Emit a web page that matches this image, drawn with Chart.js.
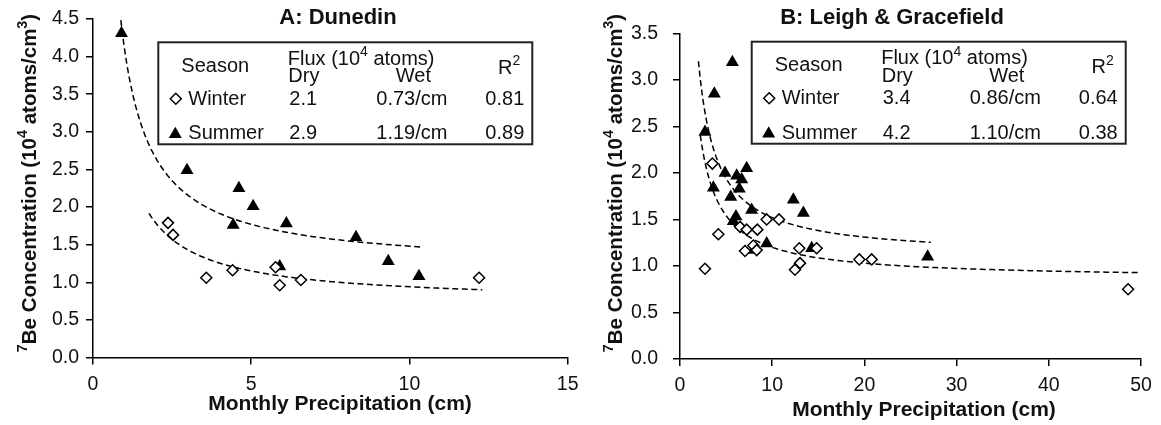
<!DOCTYPE html>
<html>
<head>
<meta charset="utf-8">
<script src="https://cdn.jsdelivr.net/npm/chart.js@4.4.1/dist/chart.umd.min.js"></script>
<style>
  html, body { margin: 0; padding: 0; background: #fff; }
  #wrap { position: relative; width: 1161px; height: 425px; background: #fff; }
  #wrap canvas { position: absolute; top: 0; }
  #chartA { left: 0; }
  #chartB { left: 590px; }
</style>
</head>
<body>
<div id="wrap">
  <canvas id="chartA" width="590" height="425"></canvas>
  <canvas id="chartB" width="571" height="425"></canvas>
</div>
<script>
// Monthly precipitation (cm) vs 7Be concentration (10^4 atoms/cm3)
const seasons = ['Winter', 'Summer'];

// A: Dunedin
const winterA_P = [2.37, 2.53, 3.58, 4.41, 5.77, 5.90, 6.57, 12.20];
const winterA_C = [1.79, 1.63, 1.06, 1.16, 1.20, 0.96, 1.03, 1.06];
const summerA_P = [0.90, 2.97, 4.61, 5.06, 4.43, 6.11, 8.31, 5.90, 9.33, 10.30];
const summerA_C = [4.31, 2.49, 2.25, 2.01, 1.76, 1.78, 1.60, 1.21, 1.28, 1.08];
const dryFluxA = [2.1, 2.9];
const wetFluxA = [0.73, 1.19];
const r2A = [0.81, 0.89];
const fitRangeA = [[1.77, 12.3], [0.88, 10.4]];

// B: Leigh & Gracefield
const winterB_P = [3.51, 4.16, 2.71, 6.51, 7.23, 8.39, 9.40, 10.74, 7.05, 7.95, 8.32, 12.94, 12.47, 13.02, 14.82, 19.45, 20.79, 48.6];
const winterB_C = [2.10, 1.34, 0.97, 1.42, 1.39, 1.39, 1.50, 1.50, 1.16, 1.22, 1.17, 1.19, 0.96, 1.03, 1.19, 1.07, 1.07, 0.75];
const summerB_P = [5.68, 3.72, 2.71, 7.23, 4.88, 6.15, 6.69, 3.62, 6.43, 5.50, 7.77, 12.29, 13.38, 6.07, 5.78, 9.40, 7.95, 14.28, 26.86];
const summerB_C = [3.19, 2.85, 2.44, 2.05, 2.00, 1.97, 1.93, 1.84, 1.83, 1.74, 1.60, 1.71, 1.57, 1.53, 1.48, 1.24, 1.17, 1.19, 1.10];
const dryFluxB = [3.4, 4.2];
const wetFluxB = [0.86, 1.10];
const r2B = [0.64, 0.38];
const fitRangeB = [[2.2, 50], [2.0, 27.2]];

const FONT = '"Liberation Sans", Arial, Helvetica, sans-serif';
const INK = '#111';

function toPoints(xs, ys) {
    return xs.map((x, i) => ({ x: x, y: ys[i] }));
}

// concentration = dry / P + wet, the fitted model from the flux table
function fitCurve(dry, wet, range) {
    const pts = [];
    const n = 80;
    for (let i = 0; i <= n; i++) {
        const p = range[0] * Math.pow(range[1] / range[0], i / n);
        pts.push({ x: p, y: dry / p + wet });
    }
    return pts;
}

function fontStr(size, bold) {
    return (bold ? 'bold ' : '') + size + 'px ' + FONT;
}

// draws text runs, some raised as superscripts
function drawRich(ctx, parts, x, y, size, bold, align) {
    const widths = parts.map(p => {
        ctx.font = fontStr(p[1] ? size * 0.7 : size, bold);
        return ctx.measureText(p[0]).width;
    });
    const total = widths.reduce((a, b) => a + b, 0);
    let cx = align === 'center' ? x - total / 2 : (align === 'right' ? x - total : x);
    ctx.textAlign = 'left';
    ctx.textBaseline = 'alphabetic';
    parts.forEach((p, i) => {
        ctx.font = fontStr(p[1] ? size * 0.7 : size, bold);
        ctx.fillText(p[0], cx, p[1] ? y - size * 0.42 : y);
        cx += widths[i];
    });
}

function drawDiamond(ctx, x, y, r) {
    ctx.beginPath();
    ctx.moveTo(x - r, y);
    ctx.lineTo(x, y - r);
    ctx.lineTo(x + r, y);
    ctx.lineTo(x, y + r);
    ctx.closePath();
    ctx.fillStyle = '#fff';
    ctx.fill();
    ctx.lineWidth = 1.5;
    ctx.strokeStyle = '#000';
    ctx.stroke();
}

function drawTriangle(ctx, x, y, r) {
    ctx.beginPath();
    ctx.moveTo(x, y - r);
    ctx.lineTo(x + r * 0.866, y + r * 0.5);
    ctx.lineTo(x - r * 0.866, y + r * 0.5);
    ctx.closePath();
    ctx.fillStyle = '#000';
    ctx.fill();
}

const panelText = {
    id: 'panelText',
    afterDraw(chart, args, opts) {
        const ctx = chart.ctx;
        ctx.save();
        ctx.fillStyle = INK;

        drawRich(ctx, [[opts.title, false]], opts.titleX, opts.titleY, 22, true, 'center');
        drawRich(ctx, [['Monthly Precipitation (cm)', false]], opts.xTitleX, opts.xTitleY, 21, true, 'center');

        ctx.save();
        ctx.translate(opts.yTitleX, opts.yTitleY);
        ctx.rotate(-Math.PI / 2);
        drawRich(ctx, [['7', true], ['Be Concentration (10', false], ['4', true], [' atoms/cm', false], ['3', true], [')', false]], 0, 0, 20.5, true, 'center');
        ctx.restore();

        // flux table
        const L = opts.boxX, T = opts.boxY;
        ctx.fillStyle = '#fff';
        ctx.fillRect(L, T, 374, 102);
        ctx.lineWidth = 2;
        ctx.strokeStyle = '#222';
        ctx.strokeRect(L, T, 374, 102);

        ctx.fillStyle = INK;
        drawRich(ctx, [['Season', false]], L + 23, T + 29.5, 20, false, 'left');
        drawRich(ctx, [['Flux (10', false], ['4', true], [' atoms)', false]], L + 129.5, T + 22.5, 20, false, 'left');
        drawRich(ctx, [['Dry', false]], L + 130, T + 40, 20, false, 'left');
        drawRich(ctx, [['Wet', false]], L + 237.5, T + 40, 20, false, 'left');
        drawRich(ctx, [['R', false], ['2', true]], L + 362, T + 31.5, 20, false, 'right');

        const rowY = [T + 62.5, T + 97];
        seasons.forEach((s, i) => {
            ctx.fillStyle = INK;
            drawRich(ctx, [[s, false]], L + 30, rowY[i], 20, false, 'left');
            drawRich(ctx, [[opts.dry[i].toFixed(1), false]], L + 131, rowY[i], 20, false, 'left');
            drawRich(ctx, [[opts.wet[i].toFixed(2) + '/cm', false]], L + 218, rowY[i], 20, false, 'left');
            drawRich(ctx, [[opts.r2[i].toFixed(2), false]], L + 366, rowY[i], 20, false, 'right');
        });
        drawDiamond(ctx, L + 17.5, T + 56.5, 5.5);
        drawTriangle(ctx, L + 17, T + 92, 7.5);

        ctx.restore();
    }
};

function makeChart(id, cfg) {
    const tickFont = { family: FONT, size: 19.5 };
    const axisGrid = { drawOnChartArea: false, drawTicks: true, tickLength: 7, color: '#000', lineWidth: 1.5 };
    const axisBorder = { color: '#000', width: 1.5 };

    return new Chart(document.getElementById(id), {
        type: 'scatter',
        data: {
            datasets: [
                {
                    label: 'Winter',
                    data: toPoints(cfg.winterP, cfg.winterC),
                    pointStyle: 'rectRot',
                    pointRadius: 5.5,
                    backgroundColor: '#fff',
                    borderColor: '#000',
                    borderWidth: 1.5
                },
                {
                    label: 'Summer',
                    data: toPoints(cfg.summerP, cfg.summerC),
                    pointStyle: 'triangle',
                    pointRadius: 7.5,
                    backgroundColor: '#000',
                    borderColor: '#000',
                    borderWidth: 0
                },
                {
                    label: 'Winter fit',
                    data: fitCurve(cfg.dry[0], cfg.wet[0], cfg.fitRange[0]),
                    showLine: true,
                    pointRadius: 0,
                    borderColor: '#000',
                    borderWidth: 1.5,
                    borderDash: [6, 3.5]
                },
                {
                    label: 'Summer fit',
                    data: fitCurve(cfg.dry[1], cfg.wet[1], cfg.fitRange[1]),
                    showLine: true,
                    pointRadius: 0,
                    borderColor: '#000',
                    borderWidth: 1.5,
                    borderDash: [6, 3.5]
                }
            ]
        },
        options: {
            responsive: false,
            animation: false,
            events: [],
            layout: { padding: { left: 0, top: cfg.padTop, right: cfg.padRight, bottom: 0 } },
            plugins: {
                legend: { display: false },
                tooltip: { enabled: false },
                panelText: cfg.text
            },
            scales: {
                x: {
                    type: 'linear',
                    min: 0,
                    max: cfg.xMax,
                    ticks: { stepSize: cfg.xStep, font: tickFont, color: INK, padding: cfg.xTickPad, maxRotation: 0 },
                    grid: axisGrid,
                    border: axisBorder,
                    afterFit: s => { s.height = cfg.xAxisHeight; }
                },
                y: {
                    type: 'linear',
                    min: 0,
                    max: cfg.yMax,
                    ticks: { stepSize: 0.5, font: tickFont, color: INK, padding: cfg.yTickPad, callback: v => v.toFixed(1) },
                    grid: axisGrid,
                    border: axisBorder,
                    afterFit: s => { s.width = cfg.yAxisWidth; }
                }
            }
        },
        plugins: [panelText]
    });
}

makeChart('chartA', {
    winterP: winterA_P, winterC: winterA_C,
    summerP: summerA_P, summerC: summerA_C,
    dry: dryFluxA, wet: wetFluxA, fitRange: fitRangeA,
    xMax: 15, xStep: 5, yMax: 4.5,
    padTop: 19, padRight: 22.3, xAxisHeight: 67.5, yAxisWidth: 93,
    xTickPad: 8, yTickPad: 7,
    text: {
        title: 'A: Dunedin', titleX: 338, titleY: 24,
        xTitleX: 340, xTitleY: 410,
        yTitleX: 36, yTitleY: 183,
        boxX: 158.3, boxY: 42.3,
        dry: dryFluxA, wet: wetFluxA, r2: r2A
    }
});

makeChart('chartB', {
    winterP: winterB_P, winterC: winterB_C,
    summerP: summerB_P, summerC: summerB_C,
    dry: dryFluxB, wet: wetFluxB, fitRange: fitRangeB,
    xMax: 50, xStep: 10, yMax: 3.5,
    padTop: 33.3, padRight: 20, xAxisHeight: 66, yAxisWidth: 90,
    xTickPad: 8, yTickPad: 15,
    text: {
        title: 'B: Leigh & Gracefield', titleX: 302, titleY: 24,
        xTitleX: 334, xTitleY: 416,
        yTitleX: 32, yTitleY: 183,
        boxX: 161.7, boxY: 41.7,
        dry: dryFluxB, wet: wetFluxB, r2: r2B
    }
});
</script>
</body>
</html>
